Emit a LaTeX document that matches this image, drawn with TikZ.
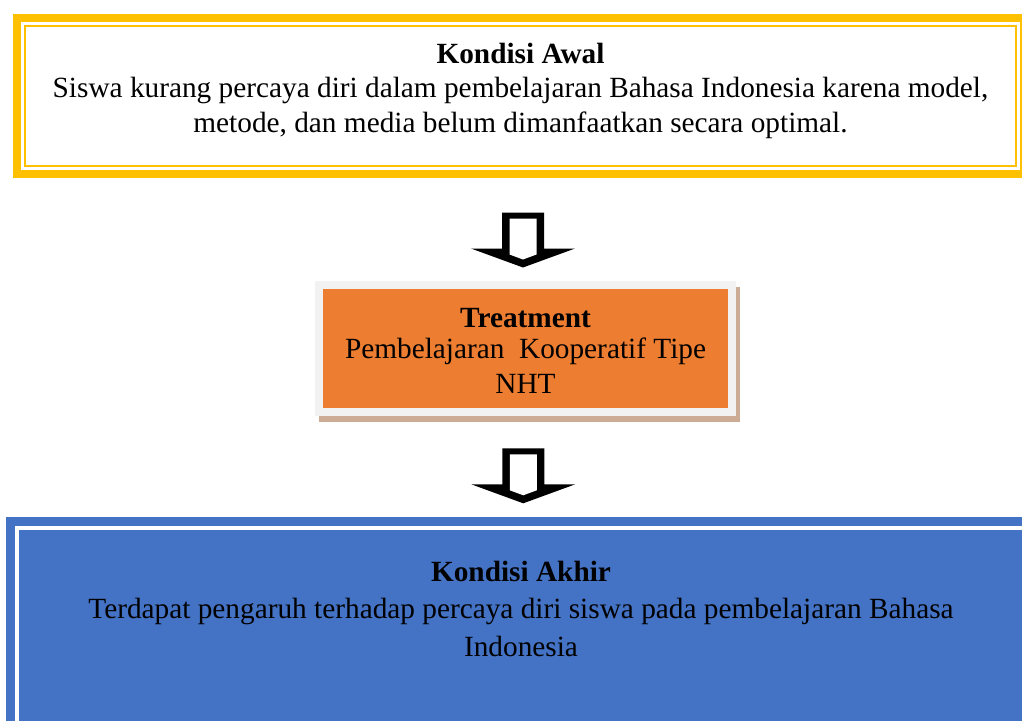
\documentclass[tikz,border=0pt]{standalone}
\usepackage{fontspec}
\setmainfont{Liberation Serif}
\usetikzlibrary{calc,shadows}
\definecolor{kuning}{HTML}{FFC000}
\definecolor{oranye}{HTML}{ED7D31}
\definecolor{abu}{HTML}{F2F2F2}
\definecolor{biru}{HTML}{4472C4}
\definecolor{bayang}{HTML}{CDAC96}
\newcommand{\isi}{\fontsize{29.3}{35}\selectfont}
\newcommand{\jdl}[1]{{\bfseries #1}}
\tikzset{every node/.style={align=center,inner sep=0pt,font=\isi},
  awalbox/.style={draw=kuning,line width=8pt,fill=white,minimum width=1007pt,text height=114pt,text depth=42pt},
  treatbox/.style={draw=abu,line width=8pt,fill=oranye,minimum width=413pt,text height=108pt,text depth=19pt,
    drop shadow={shadow xshift=4pt,shadow yshift=-6pt,opacity=1,fill=bayang,draw=bayang,line width=8pt}},
  akhirbox/.style={fill=biru,minimum width=1030pt,text height=139pt,text depth=104pt}}
\newcommand{\kotak}[4][]{\node[#1] (#2) at (#3) {#4};}
% block arrow from #1 down to #2
\def\panah#1#2{%
  \path let \p1=(#1.south), \p2=(#2.north) in coordinate (#1-#2) at ({0.5*\x1+0.5*\x2},{\y2+13.5pt});
  \fill[black] (#1-#2) ++(-21,-55) -- ++(42,0) -- ++(0,36) -- ++(31,0) -- (#1-#2) -- ++(-52,-19) -- ++(31,0) -- cycle;
  \fill[white] (#1-#2) ++(-13.5,-49) -- ++(27,0) -- ++(0,36) -- ++(-13.5,5) -- ++(-13.5,-5) -- cycle;}

\begin{document}
\begin{tikzpicture}[x=1pt,y=-1pt]
    \useasboundingbox (0,0) rectangle (1022,720);
    \clip (0,0) rectangle (1022,720);

    \kotak[awalbox]{awal}{520.5,96}{\jdl{Kondisi Awal}\\[-1pt]
      Siswa kurang percaya diri dalam pembelajaran Bahasa Indonesia karena model,\\
      metode, dan media belum dimanfaatkan secara optimal.}
    \draw[kuning,line width=2pt] ($(awal.north west)+(12,12)$) rectangle ($(awal.south east)+(-12,-12)$);

    \kotak[treatbox]{treat}{525.5,348.5}{\jdl{Treatment}\\[-4pt]
      Pembelajaran\ \ Kooperatif Tipe\\ NHT}

    \kotak[akhirbox]{akhir}{521,638.5}{\jdl{Kondisi Akhir}\\[2pt]
      Terdapat pengaruh terhadap percaya diri siswa pada pembelajaran Bahasa\\[3pt]
      Indonesia}
    \draw[white,line width=4pt] ($(akhir.north west)+(11,11)$) rectangle ($(akhir.south east)+(-11,-11)$);

    \panah{awal}{treat}
    \panah{treat}{akhir}
\end{tikzpicture}
\end{document}
